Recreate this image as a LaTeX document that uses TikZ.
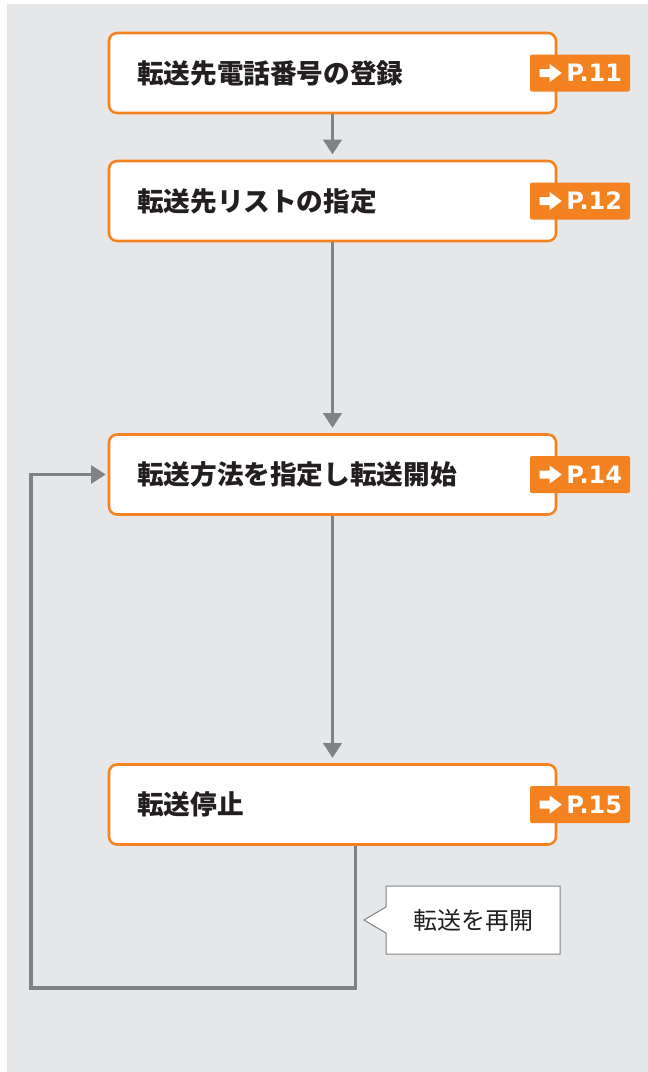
\documentclass[tikz,border=0pt]{standalone}
\usepackage{fontspec}
\setmainfont{DejaVu Sans}
\newfontfamily\jpfont{Noto Sans CJK JP}
\usepackage{tikz}
\usetikzlibrary{arrows.meta,shapes.callouts,positioning,calc}
\definecolor{flowgray}{RGB}{128,130,133}
\definecolor{boxorange}{RGB}{245,130,32}
\definecolor{bggray}{RGB}{230,231,232}
\definecolor{inkdark}{RGB}{35,31,32}
\tikzset{
  stepbox/.style={ draw=boxorange, line width=1.9pt, fill=white, rounded corners=6pt,
    minimum height=60pt, text width=293.25pt, inner xsep=21pt, align=left,
    font=\jpfont\bfseries\fontsize{20pt}{24pt}\selectfont, text=inkdark }
}
\tikzset{
  pagetag/.style={ fill=boxorange, rounded corners=1.5pt, minimum width=75pt,
    minimum height=27.75pt, text width=63pt, inner xsep=6pt, inner ysep=0pt,
    align=right, text=white, font=\bfseries\fontsize{18pt}{20pt}\selectfont }
}
\tikzset{
  flow/.style={ draw=flowgray, line width=2.6pt, shorten >=4pt,
    -{Triangle[width=13.5pt,length=11pt]} }
}
\tikzset{
  resume/.style={ rectangle callout, draw=flowgray, line width=0.75pt, fill=white,
    minimum width=130.5pt, minimum height=51pt, callout pointer width=19.5pt,
    font=\jpfont\fontsize{18pt}{22pt}\selectfont, text=inkdark }
}

\begin{document}
\begin{tikzpicture}[x=0.75pt, y=-0.75pt]
      \useasboundingbox (0,0) rectangle (648,1072);
      \fill[bggray] (7,4) rectangle (648,1072);

      \node[stepbox] (reg) at (332.5, 73) {転送先電話番号の登録};
      \node[stepbox] (list) at (332.5, 201) {転送先リストの指定};
      \node[stepbox] (start) at (332.5, 474.5) {転送方法を指定し転送開始};
      \node[stepbox] (stop) at (332.5, 804.5) {転送停止};

      \node[pagetag, anchor=east] (tagreg) at ([xshift=54.75pt]reg.east) {P.11};
      \node[pagetag, anchor=east] (taglist) at ([xshift=54.75pt]list.east) {P.12};
      \node[pagetag, anchor=east] (tagstart) at ([xshift=54.75pt]start.east) {P.14};
      \node[pagetag, anchor=east] (tagstop) at ([xshift=54.75pt]stop.east) {P.15};

      % white arrows in the page tags
      \foreach \t in {tagreg,taglist,tagstart,tagstop}
        \fill[white] ($(\t.west)+(10,-4)$) -- ++(10,0) -- ++(0,-5) -- ++(12,9)
          -- ++(-12,9) -- ++(0,-5) -- ++(-10,0) -- cycle;

      \draw[flow] (reg) -- (list);
      \draw[flow] (list) -- (start);
      \draw[flow] (start) -- (stop);

      % back to the start step
      \coordinate (loopturn) at (31, 988);
      \draw[flow, line width=2.3pt, shorten >=1.5pt] ([xshift=16.9pt]stop.south) |- (loopturn) |- (start.west);

      \node[resume, callout absolute pointer={(364,920)}] (again) at (473, 920) {転送を再開};
    \end{tikzpicture}
\end{document}
